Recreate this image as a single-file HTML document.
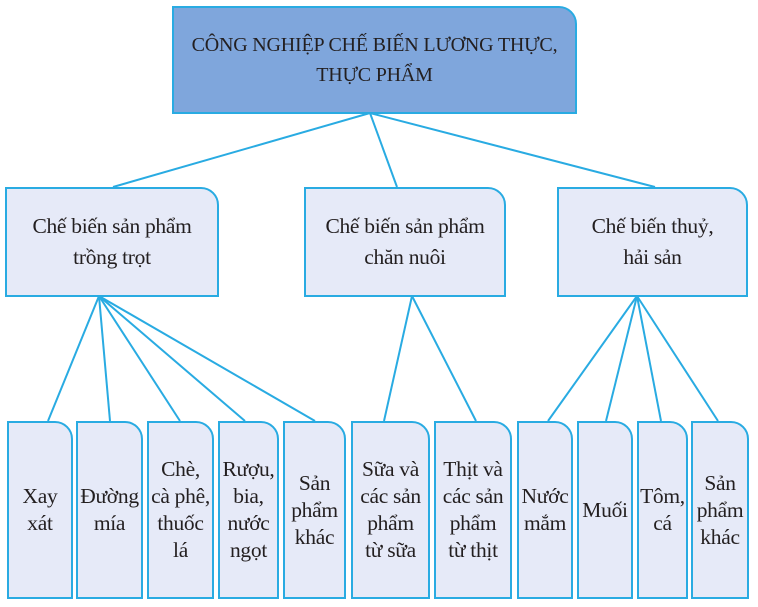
<!DOCTYPE html>
<html><head><meta charset="utf-8"><style>
body{margin:0;width:758px;height:607px;background:#fff;position:relative;overflow:hidden;font-family:"Liberation Serif",serif;color:#231f20}
.b{position:absolute;box-sizing:border-box;border:2px solid #29abe2;background:#e6eaf8;border-top-right-radius:18px;display:flex;align-items:center;justify-content:center;text-align:center;font-size:21.5px;line-height:27px;white-space:nowrap;letter-spacing:-0.3px}
svg{position:absolute;left:0;top:0}
</style></head><body>
<svg width="758" height="607"><g stroke="#29abe2" stroke-width="2" fill="none">
<line x1="370" y1="113" x2="113" y2="187"/><line x1="370" y1="113" x2="397" y2="187"/><line x1="370" y1="113" x2="655" y2="187"/>
<line x1="99" y1="296" x2="48" y2="421"/><line x1="99" y1="296" x2="110" y2="421"/><line x1="99" y1="296" x2="180" y2="421"/><line x1="99" y1="296" x2="245" y2="421"/><line x1="99" y1="296" x2="315" y2="421"/>
<line x1="412" y1="296" x2="384" y2="421"/><line x1="412" y1="296" x2="476" y2="421"/>
<line x1="637" y1="296" x2="548" y2="421"/><line x1="637" y1="296" x2="606" y2="421"/><line x1="637" y1="296" x2="661" y2="421"/><line x1="637" y1="296" x2="718" y2="421"/>
</g></svg>
<div class="b" style="left:172px;top:6px;width:405px;height:108px;background:#7fa6dc;font-size:20px;line-height:30px;letter-spacing:-0.2px">CÔNG NGHIỆP CHẾ BIẾN LƯƠNG THỰC,<br>THỰC PHẨM</div>
<div class="b" style="left:5px;top:187px;width:214px;height:110px;line-height:31px">Chế biến sản phẩm<br>trồng trọt</div>
<div class="b" style="left:304px;top:187px;width:202px;height:110px;line-height:31px">Chế biến sản phẩm<br>chăn nuôi</div>
<div class="b" style="left:557px;top:187px;width:191px;height:110px;line-height:31px">Chế biến thuỷ,<br>hải sản</div>
<div class="b" style="left:7px;top:421px;width:66px;height:178px">Xay<br>xát</div>
<div class="b" style="left:76px;top:421px;width:67px;height:178px">Đường<br>mía</div>
<div class="b" style="left:147px;top:421px;width:67px;height:178px">Chè,<br>cà phê,<br>thuốc<br>lá</div>
<div class="b" style="left:218px;top:421px;width:61px;height:178px">Rượu,<br>bia,<br>nước<br>ngọt</div>
<div class="b" style="left:283px;top:421px;width:63px;height:178px">Sản<br>phẩm<br>khác</div>
<div class="b" style="left:351px;top:421px;width:79px;height:178px">Sữa và<br>các sản<br>phẩm<br>từ sữa</div>
<div class="b" style="left:434px;top:421px;width:78px;height:178px">Thịt và<br>các sản<br>phẩm<br>từ thịt</div>
<div class="b" style="left:517px;top:421px;width:56px;height:178px">Nước<br>mắm</div>
<div class="b" style="left:577px;top:421px;width:56px;height:178px">Muối</div>
<div class="b" style="left:637px;top:421px;width:51px;height:178px">Tôm,<br>cá</div>
<div class="b" style="left:691px;top:421px;width:58px;height:178px">Sản<br>phẩm<br>khác</div>
</body></html>
